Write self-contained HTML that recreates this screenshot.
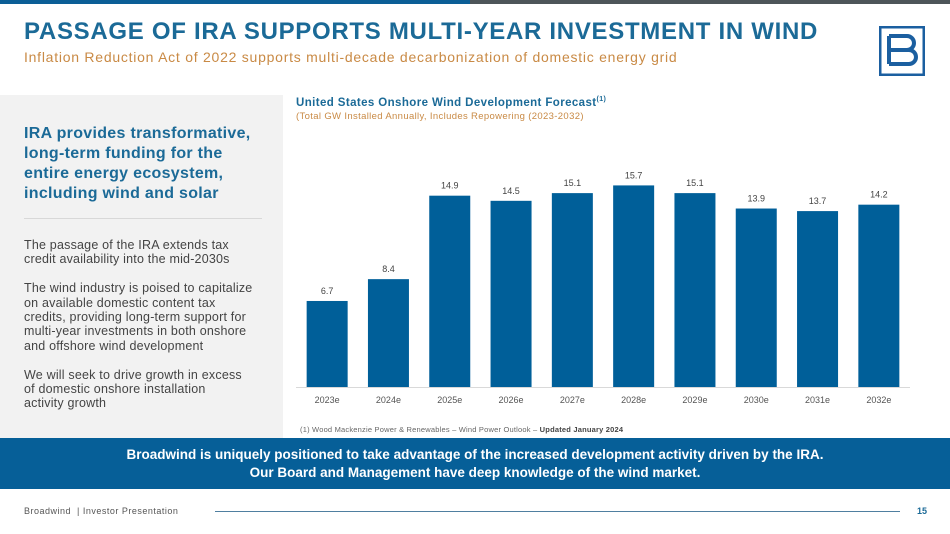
<!DOCTYPE html>
<html><head><meta charset="utf-8"><style>
body{margin:0;width:950px;height:534px;position:relative;overflow:hidden;background:#fff;font-family:"Liberation Sans",sans-serif}
div,span,svg{position:absolute}
</style></head><body>
<div style="left:0;top:0;width:470px;height:4px;background:#0b5e96"></div>
<div style="left:470px;top:0;width:480px;height:4px;background:#4d5559"></div>
<div style="left:24px;top:18px;font-size:24px;font-weight:bold;color:#1b6a97;white-space:nowrap;letter-spacing:0.7px">PASSAGE OF IRA SUPPORTS MULTI-YEAR INVESTMENT IN WIND</div>
<div style="left:24px;top:49px;font-size:14px;color:#c98a45;white-space:nowrap;letter-spacing:0.75px">Inflation Reduction Act of 2022 supports multi-decade decarbonization of domestic energy grid</div>
<svg style="left:879px;top:26px" width="46" height="50" viewBox="0 0 46 50"><rect x="1" y="1" width="44" height="48" fill="none" stroke="#1b5fa0" stroke-width="3"/><path d="M10 10h18a7 7 0 0 1 0 14H10M10 24h20a7 7 0 0 1 0 14H10M10 10v28" fill="none" stroke="#1b5fa0" stroke-width="4"/></svg>
<div style="left:0;top:95px;width:283px;height:343px;background:#f2f2f2"></div>
<div style="left:24px;top:124px;width:245px;font-size:16px;font-weight:bold;color:#1b6a97;line-height:20px;letter-spacing:0.3px">IRA provides transformative,<br>long-term funding for the<br>entire energy ecosystem,<br>including wind and solar</div>
<div style="left:24px;top:218px;width:238px;height:1px;background:#d8d8d8"></div>
<div style="left:24px;top:238px;width:250px;font-size:12.5px;color:#444;line-height:14.4px;letter-spacing:0.2px;white-space:nowrap">The passage of the IRA extends tax<br>credit availability into the mid-2030s<br><br>The wind industry is poised to capitalize<br>on available domestic content tax<br>credits, providing long-term support for<br>multi-year investments in both onshore<br>and offshore wind development<br><br>We will seek to drive growth in excess<br>of domestic onshore installation<br>activity growth</div>
<div style="left:296px;top:96px;font-size:11.5px;font-weight:bold;color:#1b6a97;white-space:nowrap;letter-spacing:0.4px">United States Onshore Wind Development Forecast<sup style="font-size:7px">(1)</sup></div>
<div style="left:296px;top:111px;font-size:9.5px;color:#c98a45;white-space:nowrap;letter-spacing:0.35px">(Total GW Installed Annually, Includes Repowering (2023-2032)</div>
<svg id="chart" style="left:0;top:0" width="950" height="534"></svg>
<div style="left:300px;top:425px;font-size:7.5px;color:#666;white-space:nowrap;letter-spacing:0.2px">(1) Wood Mackenzie Power &amp; Renewables – Wind Power Outlook – <b style="color:#444">Updated January 2024</b></div>
<div style="left:0;top:438px;width:950px;height:51px;background:#065f98;color:#fff;font-size:13.5px;font-weight:bold;text-align:center;line-height:18px;padding-top:8px;box-sizing:border-box">Broadwind is uniquely positioned to take advantage of the increased development activity driven by the IRA.<br>Our Board and Management have deep knowledge of the wind market.</div>
<div style="left:24px;top:506px;font-size:9px;color:#555;white-space:nowrap;letter-spacing:0.5px">Broadwind &nbsp;| Investor Presentation</div>
<div style="left:215px;top:511px;width:685px;height:1px;background:#4f7fa0"></div>
<div style="left:917px;top:506px;font-size:9px;font-weight:bold;color:#1b6a97">15</div>
<script>
const categories=["2023e","2024e","2025e","2026e","2027e","2028e","2029e","2030e","2031e","2032e"];
const values=[6.7,8.4,14.9,14.5,15.1,15.7,15.1,13.9,13.7,14.2];
const labels=["6.7","8.4","14.9","14.5","15.1","15.7","15.1","13.9","13.7","14.2"];
const svg=document.getElementById('chart');const NS='http://www.w3.org/2000/svg';
const x0=296,step=61.3,bw=41,base=387,k=12.84;
const xc=i=>x0+step*(i+0.5)+0.5;const y=v=>base-v*k;
function mk(t,a){const e=document.createElementNS(NS,t);for(const q in a)e.setAttribute(q,a[q]);svg.appendChild(e);return e;}
const ax=mk('line',{x1:296,x2:910,y1:base+0.5,y2:base+0.5,stroke:'#d9d9d9','stroke-width':1});


categories.forEach((c,i)=>{
const r=mk('rect',{x:xc(i)-bw/2,y:y(values[i]),width:bw,height:values[i]*k,fill:'#005f99'});


const l=mk('text',{x:xc(i),y:y(values[i])-7,'text-anchor':'middle','font-size':'9','fill':'#444','font-family':'Liberation Sans'});l.textContent=labels[i];


const t=mk('text',{x:xc(i),y:403,'text-anchor':'middle','font-size':'9','fill':'#555','font-family':'Liberation Sans'});t.textContent=c;


});
</script>
</body></html>
